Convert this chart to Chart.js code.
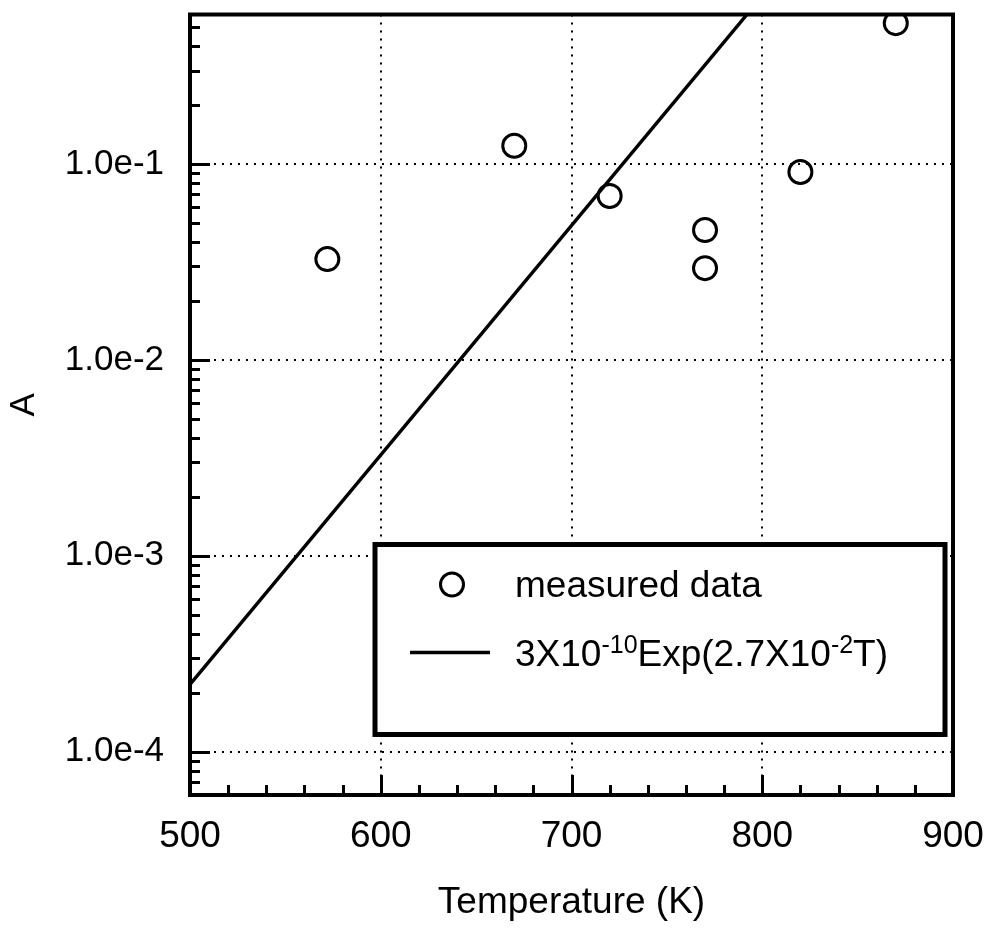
<!DOCTYPE html>
<html>
<head>
<meta charset="utf-8">
<script src="https://cdn.jsdelivr.net/npm/chart.js@4.4.1/dist/chart.umd.min.js"></script>
<style>
  html, body { margin: 0; padding: 0; background: #fff; }
  #wrap { width: 993px; height: 928px; }
</style>
</head>
<body>
<div id="wrap"><canvas id="c" width="993" height="928"></canvas></div>
<script>
// ---- data ----
const measuredT = [572, 670, 720, 770, 770, 820, 870];
const measuredA = [0.0327, 0.124, 0.0687, 0.046, 0.0294, 0.091, 0.524];
// fit line 3e-10*exp(2.7e-2*T), endpoints as seen in the plot
const fitT = [500, 792];
const fitA = [2.2e-4, 0.58];
const xTickValues = [500, 600, 700, 800, 900];
const yDecades = [-5, -4, -3, -2, -1, 0];
const legendLabels = ['measured data', '3X10', '-10', 'Exp(2.7X10', '-2', 'T)'];

const FONT = '"Liberation Sans", Arial, Helvetica, sans-serif';

const framePlugin = {
  id: 'frame',
  afterDraw(chart) {
    const { ctx, chartArea: a, scales: { x, y } } = chart;
    ctx.save();
    ctx.strokeStyle = '#000';
    ctx.lineCap = 'butt';
    ctx.lineWidth = 3;
    // inward tick marks, bottom axis
    x.ticks.forEach(t => {
      if (t.value <= x.min || t.value >= x.max) return;
      const px = Math.round(x.getPixelForValue(t.value)) + 0.5;
      const major = xTickValues.includes(t.value);
      const len = major ? 20 : 10;
      ctx.beginPath(); ctx.moveTo(px, a.bottom); ctx.lineTo(px, a.bottom - len); ctx.stroke();
    });
    // inward tick marks, left axis
    y.ticks.forEach(t => {
      const py = Math.round(y.getPixelForValue(t.value)) + 0.5;
      if (py < a.top + 2 || py > a.bottom - 2) return;
      const lg = Math.log10(t.value);
      const major = Math.abs(lg - Math.round(lg)) < 1e-6;
      const len = major ? 20 : 10;
      ctx.beginPath(); ctx.moveTo(a.left, py); ctx.lineTo(a.left + len, py); ctx.stroke();
    });
    // frame
    ctx.lineWidth = 4;
    ctx.strokeRect(a.left, a.top, a.right - a.left, a.bottom - a.top);

    // legend box
    const bx0 = a.left + 185, by0 = a.top + 530, bx1 = a.right - 8, by1 = a.top + 720;
    ctx.fillStyle = '#fff';
    ctx.fillRect(bx0, by0, bx1 - bx0, by1 - by0);
    ctx.lineWidth = 5;
    ctx.strokeRect(bx0, by0, bx1 - bx0, by1 - by0);

    // legend entry 1: circle
    ctx.lineWidth = 3;
    ctx.beginPath(); ctx.arc(bx0 + 77, by0 + 40, 11.5, 0, Math.PI * 2); ctx.stroke();
    ctx.fillStyle = '#000';
    ctx.textBaseline = 'alphabetic';
    ctx.textAlign = 'left';
    ctx.font = '37px ' + FONT;
    ctx.fillText(legendLabels[0], bx0 + 140, by0 + 52);

    // legend entry 2: line
    ctx.lineWidth = 3.5;
    ctx.beginPath(); ctx.moveTo(bx0 + 35, by0 + 108); ctx.lineTo(bx0 + 115, by0 + 108); ctx.stroke();
    let tx = bx0 + 140;
    const base = by0 + 121;
    const parts = [[legendLabels[1], false], [legendLabels[2], true], [legendLabels[3], false], [legendLabels[4], true], [legendLabels[5], false]];
    parts.forEach(([s, sup]) => {
      ctx.font = (sup ? '25px ' : '37px ') + FONT;
      ctx.fillText(s, tx, sup ? base - 13 : base);
      tx += ctx.measureText(s).width;
    });
    ctx.restore();
  }
};

const isMajorY = v => { const lg = Math.log10(v); return Math.abs(lg - Math.round(lg)) < 1e-6; };

new Chart(document.getElementById('c'), {
  type: 'scatter',
  data: {
    datasets: [
      {
        label: 'measured data',
        data: measuredT.map((t, i) => ({ x: t, y: measuredA[i] })),
        pointStyle: 'circle',
        pointRadius: 11.5,
        pointBorderWidth: 3,
        pointBorderColor: '#000',
        pointBackgroundColor: 'rgba(0,0,0,0)',
        showLine: false
      },
      {
        label: '3X10^-10 Exp(2.7X10^-2 T)',
        type: 'line',
        data: fitT.map((t, i) => ({ x: t, y: fitA[i] })),
        borderColor: '#000',
        borderWidth: 3.5,
        pointRadius: 0,
        fill: false,
        tension: 0
      }
    ]
  },
  options: {
    responsive: false,
    animation: false,
    devicePixelRatio: 1,
    layout: { padding: { top: 13, right: 40, left: 0, bottom: 0 } },
    plugins: { legend: { display: false }, tooltip: { enabled: false } },
    scales: {
      x: {
        type: 'linear',
        min: 500, max: 900,
        afterBuildTicks(scale) {
          const t = [];
          for (let v = 500; v <= 900; v += 20) t.push({ value: v });
          scale.ticks = t;
        },
        afterFit(scale) {
          scale.height = 133;
          scale.paddingLeft = 0; scale.paddingRight = 0;
        },
        ticks: {
          autoSkip: false,
          maxRotation: 0,
          padding: 20,
          color: '#000',
          font: { family: FONT, size: 37 },
          callback: v => xTickValues.includes(v) ? String(v) : ''
        },
        grid: {
          drawTicks: false,
          color: ctx => (ctx.tick && xTickValues.includes(ctx.tick.value)) ? '#000' : 'rgba(0,0,0,0)',
          lineWidth: ctx => (ctx.tick && xTickValues.includes(ctx.tick.value)) ? 2 : 0
        },
        border: { display: false, dash: [2, 6] },
        title: {
          display: true,
          text: 'Temperature (K)',
          color: '#000',
          font: { family: FONT, size: 37 },
          padding: { top: 0, bottom: 3 }
        }
      },
      y: {
        type: 'logarithmic',
        min: 6e-5, max: 0.58,
        afterBuildTicks(scale) {
          const t = [];
          yDecades.forEach(e => {
            for (let m = 1; m <= 9; m++) {
              const v = parseFloat((m * Math.pow(10, e)).toPrecision(6));
              if (v >= scale.min && v <= scale.max) t.push({ value: v, major: m === 1 });
            }
          });
          scale.ticks = t;
        },
        afterFit(scale) {
          scale.width = 190;
          scale.paddingTop = 0; scale.paddingBottom = 0;
        },
        ticks: {
          autoSkip: false,
          padding: 26,
          color: '#000',
          font: { family: FONT, size: 35 },
          callback: v => isMajorY(v) ? '1.0e' + Math.round(Math.log10(v)) : ''
        },
        grid: {
          drawTicks: false,
          color: ctx => (ctx.tick && isMajorY(ctx.tick.value)) ? '#000' : 'rgba(0,0,0,0)',
          lineWidth: ctx => (ctx.tick && isMajorY(ctx.tick.value)) ? 2 : 0
        },
        border: { display: false, dash: [2, 6] },
        title: {
          display: true,
          text: 'A',
          color: '#000',
          font: { family: FONT, size: 35 },
          padding: { top: 3, bottom: 0 }
        }
      }
    }
  },
  plugins: [framePlugin]
});
</script>
</body>
</html>
